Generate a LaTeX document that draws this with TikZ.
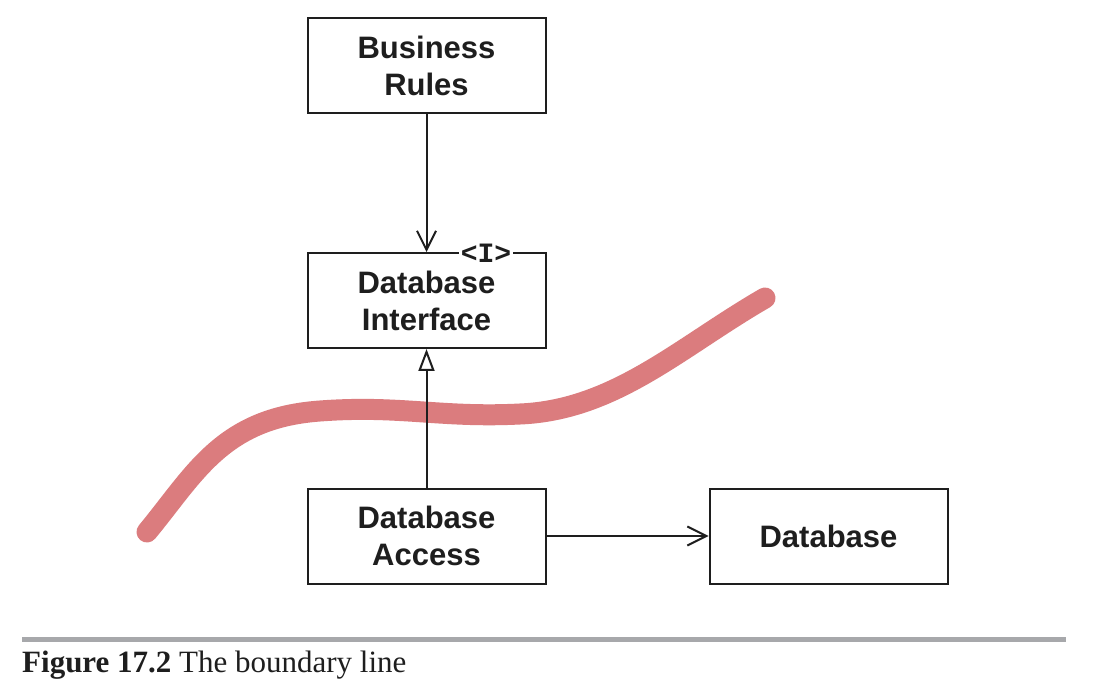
\documentclass[tikz,border=0pt]{standalone}
\usepackage{fontspec}
\setmainfont{Liberation Serif}
\newfontfamily\boxfont{Liberation Sans}
\newfontfamily\monofont{Liberation Mono}
\usetikzlibrary{arrows.meta}
\definecolor{boundary}{RGB}{219,124,126}
\definecolor{rulegray}{RGB}{167,168,171}
\definecolor{ink}{RGB}{30,30,30}
\tikzset{
  compbox/.style={draw=ink, line width=2pt, minimum width=238pt, minimum height=95pt,
    align=center, inner sep=0pt, font=\boxfont\bfseries\fontsize{31}{37}\selectfont, text=ink},
  conn/.style={draw=ink, line width=2pt},
  openarrow/.style={-{Straight Barb[length=19pt,width=19pt,line width=2pt]}},
  realize/.style={-{Triangle[open,length=22pt,width=16pt,line width=2pt,fill=white]}}
}
\begin{document}
\begin{tikzpicture}[x=1pt,y=-1pt]
\useasboundingbox (0,0) rectangle (1100,692);
\fill[white] (0,0) rectangle (1100,692);
% boxes
\node[compbox] (br) at (426.5,66) {Business\\Rules};
\node[compbox] (di) at (426.5,300.5) {Database\\Interface};
\node[compbox] (da) at (426.5,536) {Database\\Access};
\node[compbox] (db) at (828.5,536) {Database};
% interface marker on the top border
\node[fill=white, inner xsep=2pt, inner ysep=0pt, font=\monofont\bfseries\fontsize{28}{28}\selectfont, text=ink]
  (ilabel) at (486,253.5) {<I>};
% boundary line
\draw[boundary, line width=21pt, line cap=round, line join=round]
  (147,532) .. controls (195,474) and (222,418) .. (320,411)
  .. controls (400,405) and (440,418) .. (520,414)
  .. controls (615,410) and (680,347) .. (765,298);
% connectors
\draw[conn, openarrow] (br.south) -- (di.north);
\draw[conn, realize] (da.north) -- (di.south);
\draw[conn, openarrow] (da.east) -- (db.west);
% caption
\draw[rulegray, line width=5pt] (22,639.5) coordinate (r1) -- (1066,639.5) coordinate (r2);
\node[anchor=base west, inner sep=0pt, font=\fontsize{31}{36}\selectfont, text=ink] (cap) at (22,672)
  {\textbf{Figure 17.2} The boundary line};
\end{tikzpicture}
\end{document}
